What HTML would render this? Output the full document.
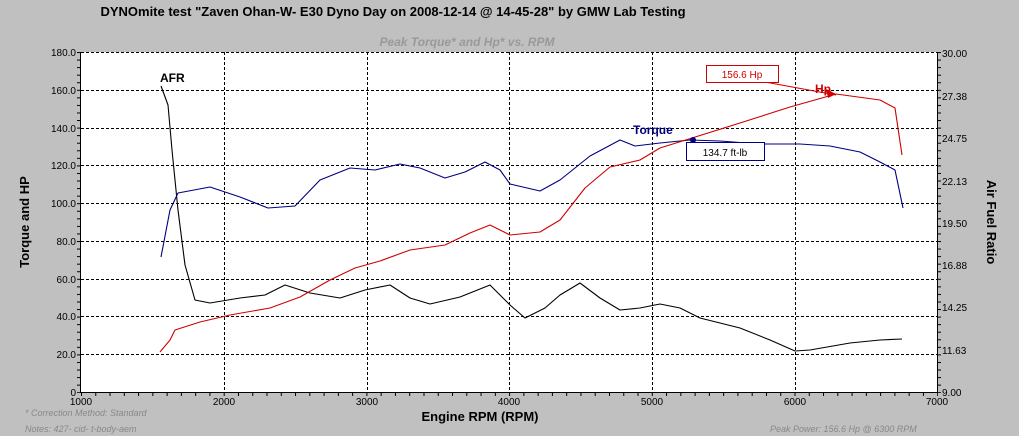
<!DOCTYPE html>
<html><head><meta charset="utf-8"><style>
html,body{margin:0;padding:0;background:#c0c0c0;}
svg{display:block;font-family:"Liberation Sans",Arial,sans-serif;}
</style></head><body>
<svg width="1019" height="436" viewBox="0 0 1019 436">
<defs>
<pattern id="tx" x="81" y="0" width="14.27" height="5" patternUnits="userSpaceOnUse"><rect x="0" y="0" width="1" height="5" fill="#000"/></pattern>
<pattern id="ty" x="0" y="52" width="5" height="7.56" patternUnits="userSpaceOnUse"><rect x="0" y="0" width="5" height="1" fill="#000"/></pattern>
</defs>
<rect width="1019" height="436" fill="#c0c0c0"/>
<text x="393" y="16" font-size="13" font-weight="bold" text-anchor="middle" fill="#000">DYNOmite test "Zaven Ohan-W- E30 Dyno Day on 2008-12-14 @ 14-45-28" by GMW Lab Testing</text>
<text x="467" y="46" font-size="12" font-weight="bold" font-style="italic" text-anchor="middle" fill="#999">Peak Torque* and Hp* vs. RPM</text>
<rect x="81" y="52" width="856" height="340" fill="#fff"/>
<g stroke="#000" stroke-width="1" stroke-dasharray="3,2" fill="none">
<line x1="81" y1="52.5" x2="937" y2="52.5"/>
<line x1="81" y1="90.5" x2="937" y2="90.5"/>
<line x1="81" y1="128.5" x2="937" y2="128.5"/>
<line x1="81" y1="165.5" x2="937" y2="165.5"/>
<line x1="81" y1="203.5" x2="937" y2="203.5"/>
<line x1="81" y1="241.5" x2="937" y2="241.5"/>
<line x1="81" y1="279.5" x2="937" y2="279.5"/>
<line x1="81" y1="316.5" x2="937" y2="316.5"/>
<line x1="81" y1="354.5" x2="937" y2="354.5"/>
<line x1="224.5" y1="52" x2="224.5" y2="392"/>
<line x1="367.5" y1="52" x2="367.5" y2="392"/>
<line x1="509.5" y1="52" x2="509.5" y2="392"/>
<line x1="652.5" y1="52" x2="652.5" y2="392"/>
<line x1="795.5" y1="52" x2="795.5" y2="392"/>
</g>
<rect x="81" y="393" width="857" height="3" fill="url(#tx)"/>
<rect x="77" y="52" width="3" height="341" fill="url(#ty)"/>
<rect x="938" y="52" width="3" height="341" fill="url(#ty)"/>
<g stroke="#000" stroke-width="1">
<line x1="80.5" y1="52" x2="80.5" y2="393"/>
<line x1="80" y1="392.5" x2="938" y2="392.5"/>
<line x1="937.5" y1="52" x2="937.5" y2="393"/>
</g>
<g font-size="10" fill="#000" text-anchor="end">
<text x="76" y="56">180.0</text><text x="76" y="94">160.0</text><text x="76" y="132">140.0</text>
<text x="76" y="169">120.0</text><text x="76" y="207">100.0</text><text x="76" y="245">80.0</text>
<text x="76" y="283">60.0</text><text x="76" y="320">40.0</text><text x="76" y="358">20.0</text><text x="76" y="396">0</text>
</g>
<g font-size="10" fill="#000">
<text x="942" y="57">30.00</text><text x="942" y="100">27.38</text><text x="942" y="142">24.75</text>
<text x="942" y="185">22.13</text><text x="942" y="227">19.50</text><text x="942" y="269">16.88</text>
<text x="942" y="311">14.25</text><text x="942" y="354">11.63</text><text x="942" y="396">9.00</text>
</g>
<g font-size="10" fill="#000" text-anchor="middle">
<text x="81" y="405">1000</text><text x="224" y="405">2000</text><text x="367" y="405">3000</text>
<text x="509" y="405">4000</text><text x="652" y="405">5000</text><text x="795" y="405">6000</text><text x="937" y="405">7000</text>
</g>
<text x="480" y="421" font-size="13" font-weight="bold" text-anchor="middle">Engine RPM (RPM)</text>
<text transform="translate(29,222) rotate(-90)" font-size="13" font-weight="bold" text-anchor="middle">Torque and HP</text>
<text transform="translate(987,222) rotate(90)" font-size="13" font-weight="bold" text-anchor="middle">Air Fuel Ratio</text>
<g font-size="9" font-style="italic" fill="#888">
<text x="25" y="416">* Correction Method: Standard</text>
<text x="25" y="432">Notes: 427- cid- t-body-aem</text>
<text x="770" y="432">Peak Power: 156.6 Hp @ 6300 RPM</text>
</g>
<g fill="none" stroke-width="1.1" stroke-linejoin="round">
<polyline stroke="#000" points="161,86 168,105 172,150 178,210 185,265 195,300 210,303 240,298 265,295 285,285 310,293 340,298 365,290 390,285 410,298 430,304 460,297 490,285 510,305 525,318 545,308 560,295 580,283 600,298 620,310 640,308 660,304 680,308 700,318 740,328 770,340 795,351 810,350 850,343 880,340 902,339"/>
<polyline stroke="#000080" points="161,257 170,210 178,193 210,187 240,197 268,208 295,206 320,180 350,168 375,170 400,164 420,168 445,178 465,172 485,162 500,170 510,184 540,191 560,180 590,156 620,140 635,146 660,143 690,140 720,141 760,144 800,144 830,146 860,152 880,162 895,170 903,208"/>
<polyline stroke="#d00000" points="160,352 170,340 175,330 200,322 230,315 270,308 300,297 330,280 355,268 380,261 410,250 445,245 470,233 490,225 510,235 540,232 560,220 585,188 610,167 640,160 660,148 692,138 740,123 790,107 836,94 880,100 895,108 902,155"/>
<line x1="765" y1="82" x2="836" y2="95" stroke="#d00000"/>
</g>
<polygon points="836,94 826,89 828,98" fill="#d00000"/>
<circle cx="693" cy="140" r="3" fill="#000080"/>
<text x="160" y="82" font-size="12" font-weight="bold">AFR</text>
<text x="633" y="134" font-size="12" font-weight="bold" fill="#000080">Torque</text>
<text x="815" y="93" font-size="12" font-weight="bold" fill="#d00000">Hp</text>
<rect x="706.5" y="65.5" width="72" height="17" fill="#fff" stroke="#d00000"/>
<text x="742" y="78" font-size="10" fill="#d00000" text-anchor="middle">156.6 Hp</text>
<rect x="686.5" y="142.5" width="78" height="18" fill="#fff" stroke="#000080"/>
<text x="725" y="156" font-size="10" fill="#000" text-anchor="middle">134.7 ft-lb</text>
</svg>
</body></html>
